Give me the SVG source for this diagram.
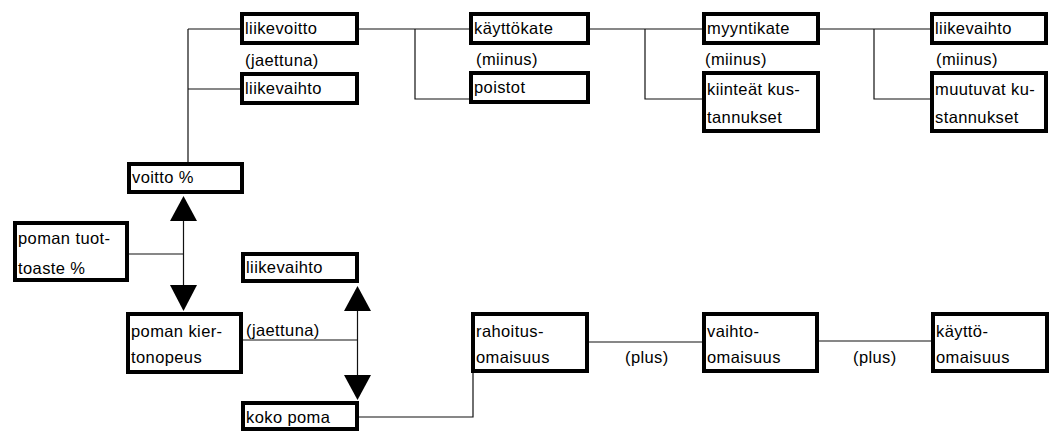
<svg xmlns="http://www.w3.org/2000/svg" width="1053" height="433" viewBox="0 0 1053 433">
  <style>
    .box { fill: #fff; stroke: #000; stroke-width: 4; }
    .lbl { font-family: "Liberation Sans", Arial, sans-serif; font-size: 16.5px; letter-spacing: 0.4px; fill: #000; }
    .wire { fill: none; stroke: #111; stroke-width: 1.2; }
    .tri { fill: #000; }
  </style>
  <rect width="1053" height="433" fill="#fff"/>

  <!-- connectors -->
  <g id="connectors">
    <path class="wire" d="M188,29 H240 M188,89 H240 M188,29 V162"/>
    <path class="wire" d="M359,29 H469 M415,29 V99 H469"/>
    <path class="wire" d="M590,29 H702 M645,29 V99 H702"/>
    <path class="wire" d="M820,29 H930 M874,29 V99 H930"/>
    <path class="wire" d="M183.5,220 V286 M129,254 H183.5"/>
    <polygon class="tri" points="183.5,196 197,221 170,221"/>
    <polygon class="tri" points="170,285 197,285 183.5,311"/>
    <path class="wire" d="M357.5,310 V376 M243,340 H357.5"/>
    <polygon class="tri" points="357.5,286 371,311 344,311"/>
    <polygon class="tri" points="344,375 371,375 357.5,400"/>
    <path class="wire" d="M359,417 H473 V373"/>
    <path class="wire" d="M589,342 H702 M819,341 H931"/>
    <text class="lbl" x="245" y="66">(jaettuna)</text>
    <text class="lbl" x="476" y="65">(miinus)</text>
    <text class="lbl" x="705" y="65">(miinus)</text>
    <text class="lbl" x="936" y="65">(miinus)</text>
    <text class="lbl" x="246" y="336">(jaettuna)</text>
    <text class="lbl" x="625" y="363">(plus)</text>
    <text class="lbl" x="853" y="363">(plus)</text>
  </g>

  <!-- top row -->
  <g id="liikevoitto">
    <rect class="box" x="242" y="14" width="115" height="29"/>
    <text class="lbl" x="245" y="34">liikevoitto</text>
  </g>
  <g id="liikevaihto-1">
    <rect class="box" x="242" y="74" width="115" height="29"/>
    <text class="lbl" x="245" y="94">liikevaihto</text>
  </g>
  <g id="kayttokate">
    <rect class="box" x="471" y="14" width="117" height="29"/>
    <text class="lbl" x="474" y="34">käyttökate</text>
  </g>
  <g id="poistot">
    <rect class="box" x="471" y="73" width="117" height="29"/>
    <text class="lbl" x="474" y="93">poistot</text>
  </g>
  <g id="myyntikate">
    <rect class="box" x="704" y="14" width="114" height="29"/>
    <text class="lbl" x="707" y="34">myyntikate</text>
  </g>
  <g id="kiinteat">
    <rect class="box" x="704" y="73" width="114" height="58"/>
    <text class="lbl" x="707" y="95">kiinteät kus-</text>
    <text class="lbl" x="707" y="123">tannukset</text>
  </g>
  <g id="liikevaihto-2">
    <rect class="box" x="932" y="14" width="114" height="29"/>
    <text class="lbl" x="935" y="34">liikevaihto</text>
  </g>
  <g id="muutuvat">
    <rect class="box" x="932" y="73" width="114" height="58"/>
    <text class="lbl" x="935" y="95">muutuvat ku-</text>
    <text class="lbl" x="935" y="123">stannukset</text>
  </g>

  <!-- left column -->
  <g id="voitto">
    <rect class="box" x="129" y="164" width="113" height="28"/>
    <text class="lbl" x="132" y="183">voitto %</text>
  </g>
  <g id="tuottoaste">
    <rect class="box" x="15" y="223" width="112" height="57"/>
    <text class="lbl" x="18" y="244">poman tuot-</text>
    <text class="lbl" x="18" y="274">toaste %</text>
  </g>
  <g id="kiertonopeus">
    <rect class="box" x="128" y="314" width="113" height="58"/>
    <text class="lbl" x="131" y="337">poman kier-</text>
    <text class="lbl" x="131" y="363">tonopeus</text>
  </g>
  <g id="liikevaihto-3">
    <rect class="box" x="243" y="254" width="114" height="27"/>
    <text class="lbl" x="246" y="273">liikevaihto</text>
  </g>
  <g id="kokopoma">
    <rect class="box" x="243" y="403" width="114" height="26"/>
    <text class="lbl" x="246" y="423">koko poma</text>
  </g>

  <!-- bottom row -->
  <g id="rahoitus">
    <rect class="box" x="473" y="314" width="114" height="57"/>
    <text class="lbl" x="476" y="337">rahoitus-</text>
    <text class="lbl" x="476" y="363">omaisuus</text>
  </g>
  <g id="vaihto">
    <rect class="box" x="704" y="314" width="113" height="57"/>
    <text class="lbl" x="707" y="337">vaihto-</text>
    <text class="lbl" x="707" y="363">omaisuus</text>
  </g>
  <g id="kaytto">
    <rect class="box" x="933" y="314" width="114" height="57"/>
    <text class="lbl" x="936" y="337">käyttö-</text>
    <text class="lbl" x="936" y="363">omaisuus</text>
  </g>
</svg>
